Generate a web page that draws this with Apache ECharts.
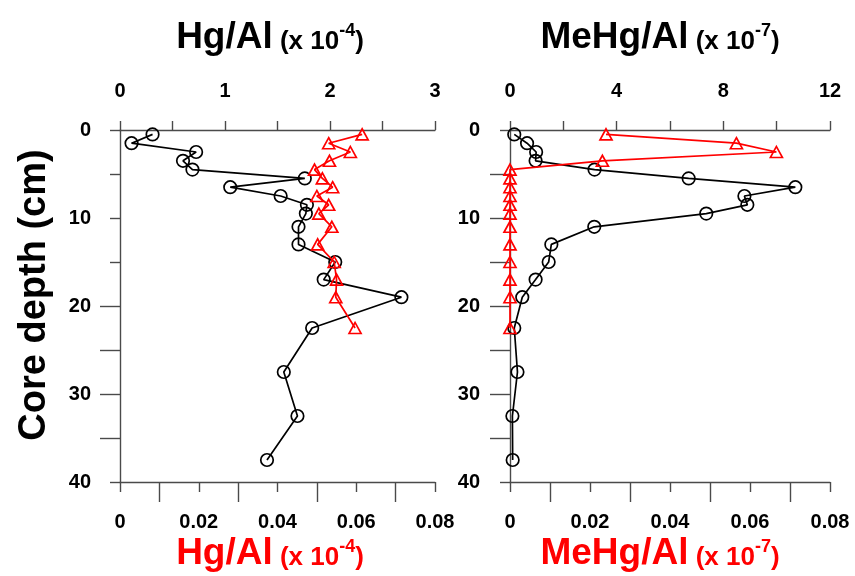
<!DOCTYPE html>
<html><head><meta charset="utf-8">
<script src="https://cdn.jsdelivr.net/npm/echarts@6/dist/echarts.min.js"></script>
<style>html,body{margin:0;padding:0;background:#fff}#c{width:855px;height:576px}</style>
</head><body><div id="c"></div>
<script>
// depths (cm)
const depthBlack = [0.5,1.5,2.5,3.5,4.5,5.5,6.5,7.5,8.5,9.5,11,13,15,17,19,22.5,27.5,32.5,37.5];
const depthRed = [0.5,1.5,2.5,3.5,4.5,5.5,6.5,7.5,8.5,9.5,11,13,15,17,19,22.5];
// Hg/Al (x 10^-4), top axis, black
const hgAlTop = [0.31,0.11,0.725,0.60,0.69,1.76,1.05,1.53,1.78,1.77,1.70,1.70,2.05,1.94,2.68,1.83,1.56,1.69,1.40];
// Hg/Al (x 10^-4), bottom axis, red
const hgAlBottom = [0.0615,0.053,0.0585,0.0532,0.0494,0.0514,0.054,0.050,0.053,0.0505,0.0538,0.0502,0.0544,0.055,0.0548,0.0597];
// MeHg/Al (x 10^-7), top axis, black
const mehgAlTop = [0.16,0.64,0.98,0.96,3.17,6.7,10.7,8.79,8.9,7.36,3.16,1.55,1.45,0.96,0.46,0.16,0.28,0.09,0.10];
// MeHg/Al (x 10^-7), bottom axis, red
const mehgAlBottom = [0.024,0.0566,0.0666,0.0231,0,0,0,0,0,0,0,0,0,0,0,0];
// tick labels
const leftTopLabels = [0,1,2,3];
const rightTopLabels = [0,4,8,12];
const bottomLabels = [0,0.02,0.04,0.06,0.08];
const depthLabels = [0,10,20,30,40];

const FONT = 'Liberation Sans';
const AX = '#4a4a4a';
const lineSt = {color: AX, width: 1.4};
const lblSt = {fontFamily: FONT, fontWeight: 'bold', fontSize: 20, color: '#000'};

function zip(xs, ys){ return xs.map((x,i)=>[x, ys[i]]); }
function fmtBottom(v){ return v === 0 ? '0' : v.toFixed(2); }

function topAxis(grid, max, interval, labels){
  return {type:'value', gridIndex:grid, position:'top', min:0, max:max, interval:interval,
    axisLine:{show:true, onZero:false, lineStyle:lineSt},
    axisTick:{show:true, length:9, lineStyle:lineSt},
    axisLabel:Object.assign({margin:29, formatter:v=> labels.indexOf(v)>=0 ? String(v) : ''}, lblSt),
    splitLine:{show:false}};
}
function bottomAxis(grid){
  return {type:'value', gridIndex:grid, position:'bottom', min:0, max:0.08, interval:0.02,
    axisLine:{show:true, onZero:false, lineStyle:lineSt},
    axisTick:{show:true, length:10, lineStyle:lineSt},
    minorTick:{show:true, splitNumber:2, length:20, lineStyle:lineSt},
    axisLabel:Object.assign({margin:30, formatter:v=> bottomLabels.indexOf(+v.toFixed(2))>=0 ? fmtBottom(v) : ''}, lblSt),
    splitLine:{show:false}, minorSplitLine:{show:false}};
}
function depthAxis(grid, margin, tickVals, tickLen){
  return {type:'value', gridIndex:grid, position:'left', inverse:true, min:0, max:40, interval:10,
    axisLine:{show:true, onZero:false, lineStyle:lineSt},
    axisTick:{show:true, length:tickLen, customValues:tickVals, lineStyle:lineSt},
    axisLabel:Object.assign({margin:margin, customValues:depthLabels}, lblSt),
    splitLine:{show:false}};
}
function extraDepthAxis(grid, tickVals, tickLen){
  return {type:'value', gridIndex:grid, position:'left', inverse:true, min:0, max:40, interval:10,
    axisLine:{show:false},
    axisTick:{show:true, length:tickLen, customValues:tickVals, lineStyle:lineSt},
    axisLabel:{show:false}, splitLine:{show:false}};
}

const black = {type:'line', symbol:'circle', symbolSize:12.5,
  itemStyle:{color:'rgba(255,255,255,0)', borderColor:'#000', borderWidth:1.7},
  lineStyle:{color:'#000', width:1.7}, z:3};
const red = {type:'line', symbol:'triangle', symbolSize:[12,11],
  itemStyle:{color:'rgba(255,255,255,0)', borderColor:'#ff0000', borderWidth:1.7},
  lineStyle:{color:'#ff0000', width:1.7}, z:4};

function titleRich(main, exp, color, x, y){
  return {type:'text', x:x, y:y, style:{
    text:'{a|'+main+'}{b| (x 10}{s|-'+exp+'}{b|)}',
    align:'center', verticalAlign:'middle', fill:color,
    rich:{
      a:{fontFamily:FONT, fontWeight:'bold', fontSize:37, lineHeight:37, verticalAlign:'bottom', fill:color},
      b:{fontFamily:FONT, fontWeight:'bold', fontSize:26, lineHeight:26, verticalAlign:'bottom', padding:[0,0,2,0], fill:color},
      s:{fontFamily:FONT, fontWeight:'bold', fontSize:18, lineHeight:18, verticalAlign:'top', padding:[3,0,0,0], fill:color}
    }}};
}

const chart = echarts.init(document.getElementById('c'), null, {renderer:'canvas'});
chart.setOption({
  animation:false,
  backgroundColor:'#fff',
  grid:[{left:120, top:130, width:315, height:352}, {left:510, top:130, width:320, height:352}],
  xAxis:[topAxis(0,3,0.5,leftTopLabels), bottomAxis(0), topAxis(1,12,2,rightTopLabels), bottomAxis(1)],
  yAxis:[depthAxis(0,29,[0,5,10,15,40],10), extraDepthAxis(0,[20,25,30,35],20),
         depthAxis(1,30,[0,40],10), extraDepthAxis(1,[5,10,15,20,25,30,35],20)],
  series:[
    Object.assign({}, black, {xAxisIndex:0, yAxisIndex:0, data:zip(hgAlTop, depthBlack)}),
    Object.assign({}, red, {xAxisIndex:1, yAxisIndex:0, data:zip(hgAlBottom, depthRed)}),
    Object.assign({}, black, {xAxisIndex:2, yAxisIndex:2, data:zip(mehgAlTop, depthBlack)}),
    Object.assign({}, red, {xAxisIndex:3, yAxisIndex:2, data:zip(mehgAlBottom, depthRed)})
  ],
  graphic:[
    titleRich('Hg/Al','4','#000',270,38),
    titleRich('MeHg/Al','7','#000',660,38),
    titleRich('Hg/Al','4','#ff0000',270,554),
    titleRich('MeHg/Al','7','#ff0000',660,554),
    {type:'text', x:35, y:295, rotation:Math.PI/2, style:{text:'Core depth (cm)', align:'center', verticalAlign:'middle',
      fontFamily:FONT, fontWeight:'bold', fontSize:38, fill:'#000'}}
  ]
});
</script></body></html>
